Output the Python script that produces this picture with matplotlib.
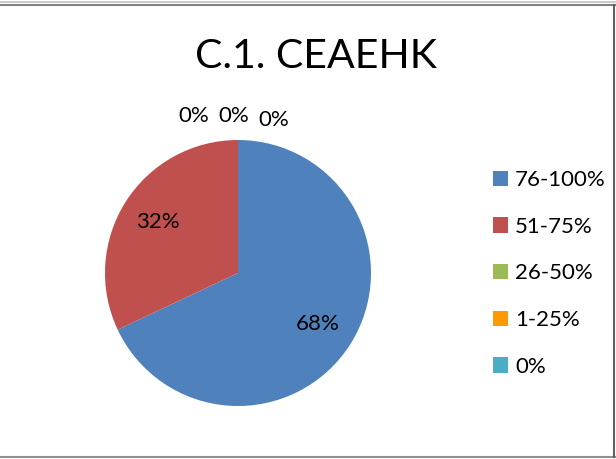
import matplotlib
matplotlib.use("Agg")
import matplotlib.pyplot as plt
from matplotlib.lines import Line2D

plt.rcParams['font.family'] = ['Lato', 'DejaVu Sans']

# survey answers, share of respondents per band
categories = ["76-100%", "51-75%", "26-50%", "1-25%", "0%"]
values = [68, 32, 0, 0, 0]
colors = ["#4F81BD", "#C0504D", "#9BBB59", "#FF9900", "#4BACC6"]
title = "C.1. CEAEHK"

W, H = 616, 459
fig = plt.figure(figsize=(W / 100, H / 100), dpi=100)
ax = fig.add_axes([0, 0, 1, 1])

wedges, texts, autotexts = ax.pie(
    values, colors=colors, startangle=90, counterclock=False,
    center=(238, H - 273), radius=133, frame=True,
    autopct=lambda p: f"{p:.0f}%" if p > 0 else "",
    pctdistance=0.71, textprops={"fontsize": 16, "color": "black"})
ax.set_xlim(0, W)
ax.set_ylim(0, H)
ax.set_aspect("equal")
ax.axis("off")

# zero-share slices get their labels above the pie
zero_pos = [(194, 116), (234, 116), (274, 120)]
zeros = [v for v in values if v == 0]
for v, (x, y) in zip(zeros, zero_pos):
    ax.text(x, H - y, f"{v}%", fontsize=16, ha="center", va="center")

ax.text(316, H - 56, title, fontsize=29.5, ha="center", va="center")

leg = ax.legend(wedges, categories, loc="center left",
                bbox_to_anchor=(493 / W, 1 - 273.5 / H),
                bbox_transform=fig.transFigure, frameon=False,
                fontsize=16, handlelength=0.68, handleheight=0.68,
                handletextpad=0.32, labelspacing=1.2, borderpad=0,
                borderaxespad=0)

# chart frame lines
fig.add_artist(Line2D([0, 1], [1 - 1.5 / H, 1 - 1.5 / H], color="#C0C0C0", lw=1.2))
fig.add_artist(Line2D([0, 1], [1 - 4.5 / H, 1 - 4.5 / H], color="#808080", lw=1.5))
fig.add_artist(Line2D([0, 1], [1 - 457 / H, 1 - 457 / H], color="#909090", lw=1.5))
fig.add_artist(Line2D([1 - 2 / W, 1 - 2 / W], [1 - 4.5 / H, 1 - 457 / H], color="#606060", lw=1.5))

fig.savefig("out.png", dpi=100)
